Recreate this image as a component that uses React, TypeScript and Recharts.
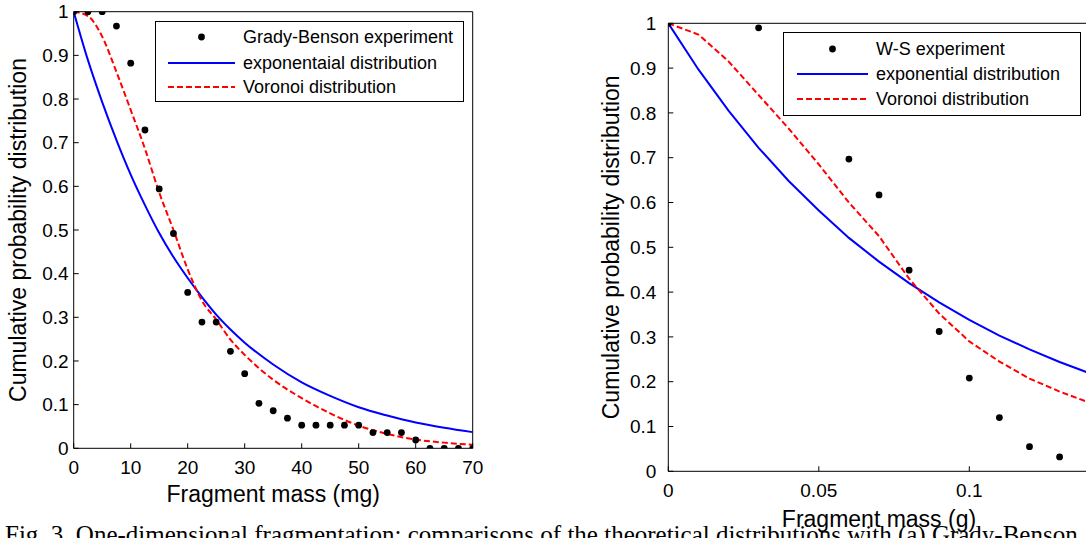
import React from 'react';
import { ComposedChart, Line, Scatter, XAxis, YAxis, Legend, Label } from 'recharts';

// ---------- Panel (a): Grady-Benson ----------
const gbMass = [0, 2.5, 5, 7.5, 10, 12.5, 15, 17.5, 20, 22.5, 25, 27.5, 30, 32.5, 35, 37.5, 40, 42.5, 45, 47.5, 50, 52.5, 55, 57.5, 60, 62.5, 65, 67.5, 70];
const gbExperiment = [1, 1, 1, 0.967, 0.882, 0.729, 0.594, 0.492, 0.357, 0.289, 0.289, 0.222, 0.171, 0.103, 0.086, 0.069, 0.053, 0.053, 0.053, 0.053, 0.053, 0.036, 0.036, 0.036, 0.019, 0, 0, 0, 0];
const gbCurveMass = [0, 2.5, 5, 7.5, 10, 12.5, 15, 17.5, 20, 22.5, 25, 27.5, 30, 35, 40, 45, 50, 55, 60, 65, 70];
const gbExponential = [1, 0.889, 0.793, 0.706, 0.627, 0.557, 0.493, 0.438, 0.39, 0.346, 0.306, 0.272, 0.242, 0.192, 0.151, 0.12, 0.094, 0.075, 0.059, 0.047, 0.037];
const gbVoronoi = [1, 0.99, 0.943, 0.862, 0.775, 0.686, 0.586, 0.5, 0.41, 0.338, 0.295, 0.249, 0.214, 0.157, 0.115, 0.08, 0.052, 0.033, 0.02, 0.013, 0.008];
const gbXTicks = [0, 10, 20, 30, 40, 50, 60, 70];
const gbXDomain: [number, number] = [0, 70];
const gbLegend = ['Grady-Benson experiment', 'exponentaial distribution', 'Voronoi distribution'];

// ---------- Panel (b): W-S ----------
const wsMass = [0, 0.03, 0.06, 0.07, 0.08, 0.09, 0.1, 0.11, 0.12, 0.13];
const wsExperiment = [1, 0.99, 0.697, 0.617, 0.449, 0.312, 0.208, 0.12, 0.055, 0.032];
const wsCurveMass = [0, 0.01, 0.02, 0.03, 0.04, 0.05, 0.06, 0.07, 0.08, 0.09, 0.1, 0.11, 0.12, 0.13, 0.14];
const wsExponential = [1, 0.897, 0.805, 0.722, 0.648, 0.582, 0.521, 0.468, 0.42, 0.377, 0.338, 0.303, 0.272, 0.244, 0.219];
const wsVoronoi = [1, 0.975, 0.915, 0.84, 0.765, 0.685, 0.6, 0.525, 0.43, 0.352, 0.29, 0.245, 0.207, 0.178, 0.153];
const wsXTicks = [0, 0.05, 0.1];
const wsXDomain: [number, number] = [0, 0.14];
const wsLegend = ['W-S experiment', 'exponential distribution', 'Voronoi distribution'];

// ---------- shared ----------
const yTicks = [0, 0.1, 0.2, 0.3, 0.4, 0.5, 0.6, 0.7, 0.8, 0.9, 1];
const yLabel = 'Cumulative probability distribution';
const caption = 'Fig. 3. One-dimensional fragmentation: comparisons of the theoretical distributions with (a) Grady-Benson';

const FONT = 'Arial, "Liberation Sans", Helvetica, sans-serif';
const BLUE = '#0000ff';
const RED = '#ff0000';
const DASH = '6 3';

const toPoints = (xs: number[], ys: number[]) => xs.map((x, i) => ({ x, y: ys[i] }));

const Dot = (props: any) =>
  props.cx == null || props.cy == null ? null : <circle cx={props.cx} cy={props.cy} r={3.4} fill="#000" />;

type LegendBoxProps = {
  w: number; h: number; rows: number[]; s0: number; s1: number; tx: number; labels: string[];
};

const LegendBox = ({ w, h, rows, s0, s1, tx, labels }: LegendBoxProps) => (
  <svg width={w} height={h} style={{ display: 'block', overflow: 'visible' }}>
    <rect x={0.5} y={0.5} width={w - 1} height={h - 1} fill="#fff" stroke="#000" strokeWidth={1} />
    <circle cx={(s0 + s1) / 2} cy={rows[0]} r={3.4} fill="#000" />
    <line x1={s0} x2={s1} y1={rows[1]} y2={rows[1]} stroke={BLUE} strokeWidth={2} />
    <line x1={s0} x2={s1} y1={rows[2]} y2={rows[2]} stroke={RED} strokeWidth={2} strokeDasharray={DASH} />
    {labels.map((t, i) => (
      <text key={t} x={tx} y={rows[i]} dy="0.36em" fontSize={18} fontFamily={FONT} fill="#000">
        {t}
      </text>
    ))}
  </svg>
);

type PanelProps = {
  x: number;
  width: number;
  margin: { top: number; right: number; bottom: number; left: number };
  yAxisWidth: number;
  xDomain: [number, number];
  xTicks: number[];
  xLabel: string;
  xLabelOffset: number;
  yLabelOffset: number;
  yTickMargin: number;
  expMass: number[];
  expVals: number[];
  curveMass: number[];
  expo: number[];
  voro: number[];
  curveType: 'monotone' | 'linear';
  legendLabels: string[];
  legendPos: { left: number; top: number };
  legendBox: Omit<LegendBoxProps, 'labels'>;
};

const Panel = (p: PanelProps) => {
  const tickStyle = { fill: '#000', fontSize: 19, fontFamily: FONT };
  const axisLine = { stroke: '#000', strokeWidth: 1 };
  return (
    <div style={{ position: 'absolute', left: p.x, top: 0 }}>
      <ComposedChart width={p.width} height={538} margin={p.margin}>
        <XAxis
          type="number"
          dataKey="x"
          domain={p.xDomain}
          allowDataOverflow
          ticks={p.xTicks}
          interval={0}
          height={60}
          tickSize={-5}
          tickMargin={17}
          tick={tickStyle}
          tickLine={axisLine}
          axisLine={axisLine}
        >
          <Label
            value={p.xLabel}
            position="insideBottom"
            offset={p.xLabelOffset}
            style={{ fontSize: 23, fill: '#000', fontFamily: FONT }}
          />
        </XAxis>
        <XAxis
          xAxisId="top"
          orientation="top"
          type="number"
          dataKey="x"
          domain={p.xDomain}
          allowDataOverflow
          ticks={p.xTicks}
          interval={0}
          height={1}
          tick={false}
          tickSize={-5}
          tickLine={axisLine}
          axisLine={axisLine}
        />
        <YAxis
          type="number"
          domain={[0, 1]}
          allowDataOverflow
          ticks={yTicks}
          interval={0}
          width={p.yAxisWidth}
          tickSize={-5}
          tickMargin={p.yTickMargin}
          tick={tickStyle}
          tickLine={axisLine}
          axisLine={axisLine}
        >
          <Label
            value={yLabel}
            angle={-90}
            position="insideLeft"
            offset={p.yLabelOffset}
            style={{ fontSize: 23, fill: '#000', fontFamily: FONT, textAnchor: 'middle' }}
          />
        </YAxis>
        <YAxis
          yAxisId="right"
          orientation="right"
          type="number"
          domain={[0, 1]}
          allowDataOverflow
          ticks={yTicks}
          interval={0}
          width={1}
          tick={false}
          tickSize={-5}
          tickLine={axisLine}
          axisLine={axisLine}
        />
        <Line
          data={toPoints(p.curveMass, p.expo)}
          dataKey="y"
          type={p.curveType}
          stroke={BLUE}
          strokeWidth={2}
          dot={false}
          activeDot={false}
          isAnimationActive={false}
        />
        <Line
          data={toPoints(p.curveMass, p.voro)}
          dataKey="y"
          type={p.curveType}
          stroke={RED}
          strokeWidth={2}
          strokeDasharray={DASH}
          dot={false}
          activeDot={false}
          isAnimationActive={false}
        />
        <Scatter
          data={toPoints(p.expMass, p.expVals)}
          dataKey="y"
          fill="#000"
          shape={Dot}
          isAnimationActive={false}
        />
        <Legend
          layout="vertical"
          align="center"
          verticalAlign="middle"
          wrapperStyle={{ left: p.legendPos.left, top: p.legendPos.top, width: p.legendBox.w, height: p.legendBox.h }}
          content={() => <LegendBox {...p.legendBox} labels={p.legendLabels} />}
        />
      </ComposedChart>
    </div>
  );
};

export default function App() {
  return (
    <div
      style={{
        position: 'fixed',
        left: 0,
        top: 0,
        width: 1086,
        height: 538,
        overflow: 'hidden',
        background: '#fff',
      }}
    >
      <Panel
        x={0}
        width={543}
        margin={{ top: 10.7, right: 69.3, bottom: 29.7, left: 0 }}
        yAxisWidth={73.7}
        xDomain={gbXDomain}
        xTicks={gbXTicks}
        xLabel="Fragment mass (mg)"
        xLabelOffset={6.3}
        yLabelOffset={18}
        yTickMargin={10}
        expMass={gbMass}
        expVals={gbExperiment}
        curveMass={gbCurveMass}
        expo={gbExponential}
        voro={gbVoronoi}
        curveType="monotone"
        legendLabels={gbLegend}
        legendPos={{ left: 155, top: 21 }}
        legendBox={{ w: 309, h: 81, rows: [16, 42, 66], s0: 13, s1: 80, tx: 88 }}
      />
      <Panel
        x={543}
        width={560}
        margin={{ top: 22.3, right: 12.3, bottom: 6.7, left: 0 }}
        yAxisWidth={125.3}
        xDomain={wsXDomain}
        xTicks={wsXTicks}
        xLabel="Fragment mass (g)"
        xLabelOffset={4.3}
        yLabelOffset={68}
        yTickMargin={17}
        expMass={wsMass}
        expVals={wsExperiment}
        curveMass={wsCurveMass}
        expo={wsExponential}
        voro={wsVoronoi}
        curveType="linear"
        legendLabels={wsLegend}
        legendPos={{ left: 240, top: 32 }}
        legendBox={{ w: 298, h: 84, rows: [17, 42, 67], s0: 14, s1: 85, tx: 93 }}
      />
      <div
        style={{
          position: 'absolute',
          left: 5,
          top: 522,
          fontFamily: '"Liberation Serif", "Times New Roman", serif',
          fontSize: 25,
          lineHeight: '25px',
          whiteSpace: 'nowrap',
          color: '#000',
        }}
      >
        {caption}
      </div>
    </div>
  );
}
